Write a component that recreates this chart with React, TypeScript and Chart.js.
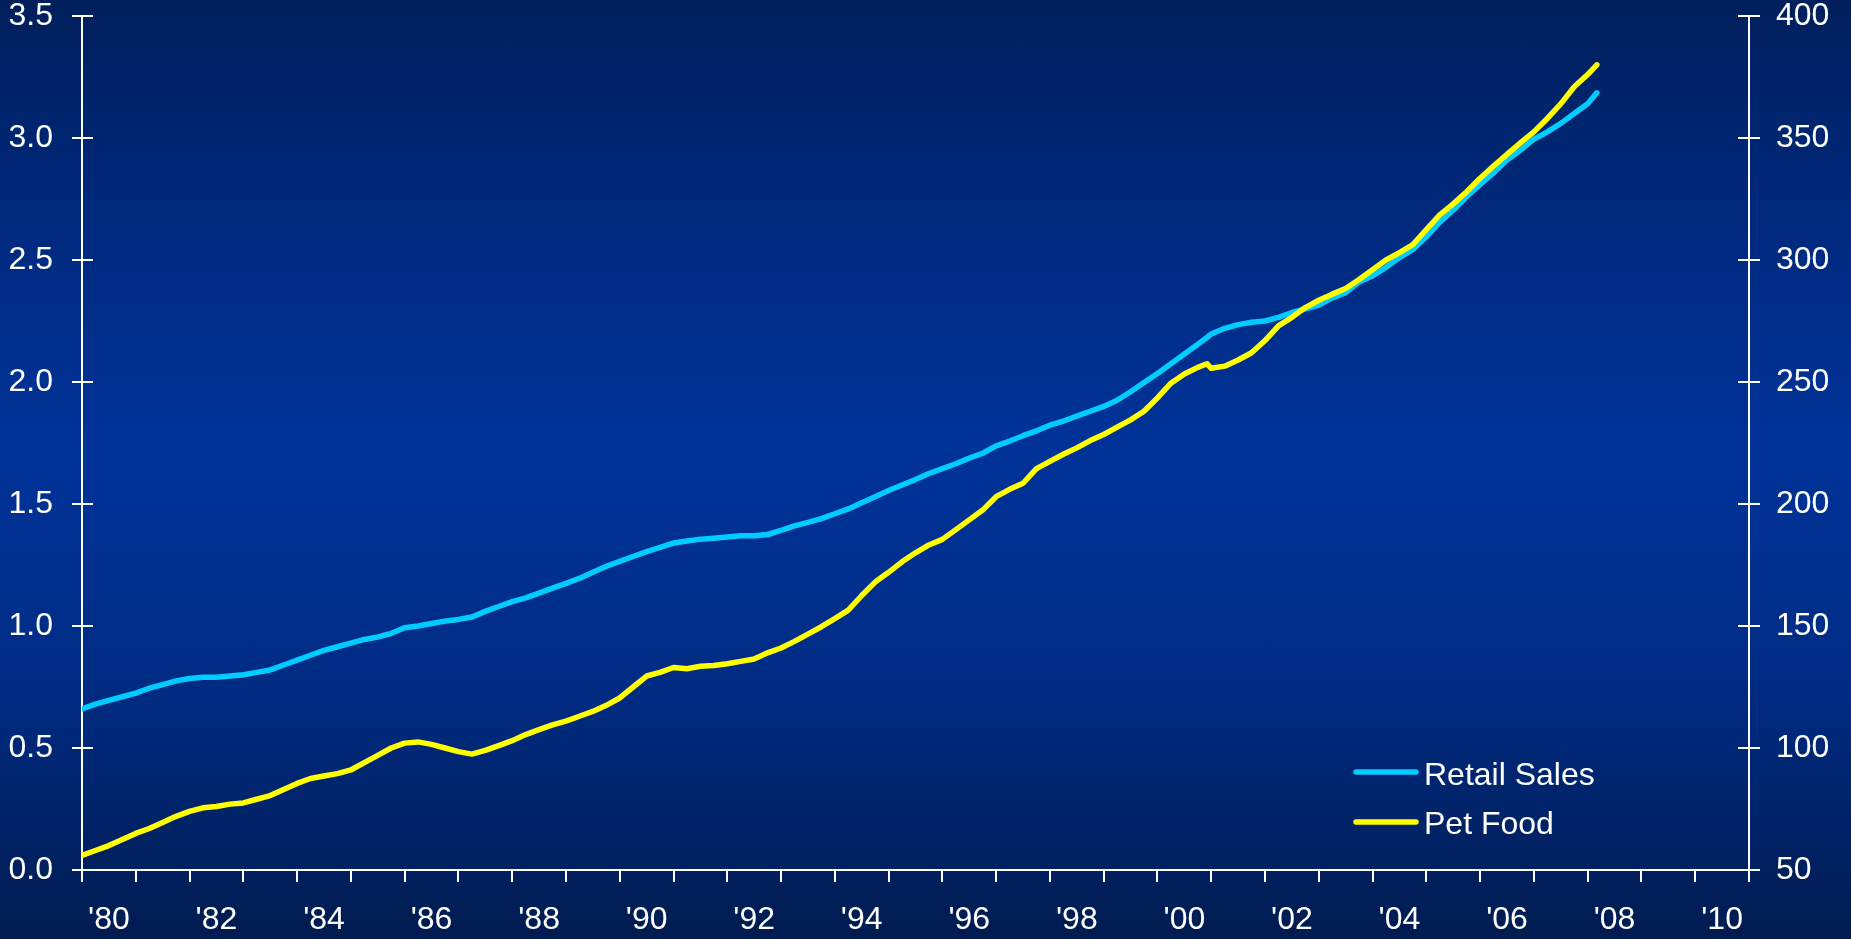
import React, { useEffect, useRef } from "react";
import { Chart, registerables } from "chart.js";

Chart.register(...registerables);

// ---- Data ----
const dates = [
  1980.0, 1980.25, 1980.5, 1980.75, 1981.0, 1981.25, 1981.5, 1981.75,
  1982.0, 1982.25, 1982.5, 1982.75, 1983.0, 1983.25, 1983.5, 1983.75,
  1984.0, 1984.25, 1984.5, 1984.75, 1985.0, 1985.25, 1985.5, 1985.75,
  1986.0, 1986.25, 1986.5, 1986.75, 1987.0, 1987.25, 1987.5, 1987.75,
  1988.0, 1988.25, 1988.5, 1988.75, 1989.0, 1989.25, 1989.5, 1989.75,
  1990.0, 1990.25, 1990.5, 1990.75, 1991.0, 1991.25, 1991.5, 1991.75,
  1992.0, 1992.25, 1992.5, 1992.75, 1993.0, 1993.25, 1993.5, 1993.75,
  1994.0, 1994.25, 1994.5, 1994.75, 1995.0, 1995.25, 1995.5, 1995.75,
  1996.0, 1996.25, 1996.5, 1996.75, 1997.0, 1997.25, 1997.5, 1997.75,
  1998.0, 1998.25, 1998.5, 1998.75, 1999.0, 1999.25, 1999.5, 1999.75,
  2000.0, 2000.25, 2000.5, 2000.75, 2000.92, 2001.0, 2001.25, 2001.5, 2001.75,
  2002.0, 2002.25, 2002.5, 2002.75, 2003.0, 2003.25, 2003.5, 2003.75,
  2004.0, 2004.25, 2004.5, 2004.75, 2005.0, 2005.25, 2005.5, 2005.75,
  2006.0, 2006.25, 2006.5, 2006.75, 2007.0, 2007.25, 2007.5, 2007.75,
  2008.0, 2008.17,
];

// Retail Sales (left axis)
const retailSales = [
  0.66, 0.68, 0.695, 0.71, 0.725, 0.745, 0.76, 0.775,
  0.785, 0.79, 0.79, 0.795, 0.8, 0.81, 0.82, 0.84,
  0.86, 0.88, 0.9, 0.915, 0.93, 0.945, 0.955, 0.97,
  0.993, 1.0, 1.01, 1.02, 1.027, 1.037, 1.06, 1.08,
  1.1, 1.115, 1.135, 1.155, 1.175, 1.195, 1.22, 1.245,
  1.265, 1.285, 1.305, 1.322, 1.34, 1.348, 1.356, 1.36,
  1.365, 1.37, 1.37, 1.375, 1.392, 1.41, 1.425, 1.44,
  1.46, 1.48, 1.505, 1.53, 1.555, 1.578, 1.6, 1.625,
  1.645, 1.665, 1.688, 1.708, 1.738, 1.758, 1.78, 1.8,
  1.823, 1.84, 1.86, 1.88, 1.9, 1.925, 1.96, 1.998,
  2.035, 2.075, 2.115, 2.155, 2.182, 2.197, 2.22, 2.235, 2.245,
  2.25, 2.265, 2.285, 2.3, 2.315, 2.345, 2.366, 2.41,
  2.435, 2.47, 2.51, 2.543, 2.595, 2.655, 2.705, 2.76,
  2.81, 2.857, 2.91, 2.95, 2.995, 3.025, 3.06, 3.1,
  3.14, 3.185,
];

// Pet Food (right axis)
const petFood = [
  56, 58, 60, 62.5, 65, 67, 69.5, 72,
  74, 75.5, 76, 77, 77.5, 79, 80.5, 83,
  85.5, 87.5, 88.5, 89.5, 91, 94, 97, 100,
  102, 102.5, 101.5, 100, 98.5, 97.5, 99, 101,
  103, 105.5, 107.5, 109.5, 111, 113, 115, 117.5,
  120.5, 125, 129.5, 131, 133, 132.5, 133.5, 133.8,
  134.5, 135.5, 136.5, 139, 141, 143.7, 146.7, 149.7,
  153, 156.5, 162.5, 168, 172, 176.3, 180, 183.2,
  185.5, 189.5, 193.5, 197.5, 203, 206, 208.5, 214.5,
  217.5, 220.4, 223, 226, 228.5, 231.5, 234.5, 238,
  243.5, 249.5, 253.3, 256, 257.5, 255.6, 256.5, 259, 262,
  267, 273, 276.5, 280.5, 283.5, 286, 288.3, 292,
  296, 300, 303, 306.3, 312.5, 318.5, 323, 328,
  333.5, 338.5, 343.3, 348, 352.5, 358, 364, 371,
  376, 380,
];

const seriesNames = ["Retail Sales", "Pet Food"];
const seriesColors = ["#00CCFF", "#FFFF00"];
const xLabelYears = [1980, 1982, 1984, 1986, 1988, 1990, 1992, 1994, 1996, 1998, 2000, 2002, 2004, 2006, 2008, 2010];
const leftTicks = [0, 0.5, 1.0, 1.5, 2.0, 2.5, 3.0, 3.5];
const rightTicks = [50, 100, 150, 200, 250, 300, 350, 400];
const X_MIN = 1980;
const X_MAX = 2011;

const FONT = '"Liberation Sans", Arial, Helvetica, sans-serif';

const axesPlugin = {
  id: "customAxes",
  beforeDatasetsDraw(chart: any) {
    const { ctx, chartArea: a, scales } = chart;
    const xs = scales.x;
    const yL = scales.yLeft;
    const yR = scales.yRight;
    ctx.save();
    ctx.strokeStyle = "#ffffff";
    ctx.lineWidth = 2;
    ctx.lineCap = "butt";
    ctx.beginPath();
    ctx.moveTo(a.left, a.top);
    ctx.lineTo(a.left, a.bottom + 12);
    ctx.moveTo(a.right, a.top);
    ctx.lineTo(a.right, a.bottom + 12);
    ctx.moveTo(a.left - 10, a.bottom);
    ctx.lineTo(a.right + 11, a.bottom);
    for (const v of leftTicks) {
      const py = Math.round(yL.getPixelForValue(v));
      ctx.moveTo(a.left - 10, py);
      ctx.lineTo(a.left + 11, py);
    }
    for (const v of rightTicks) {
      const py = Math.round(yR.getPixelForValue(v));
      ctx.moveTo(a.right - 11, py);
      ctx.lineTo(a.right + 11, py);
    }
    for (let yr = X_MIN; yr <= X_MAX; yr++) {
      const px = Math.round(xs.getPixelForValue(yr));
      ctx.moveTo(px, a.bottom);
      ctx.lineTo(px, a.bottom + 12);
    }
    ctx.stroke();
    ctx.restore();
  },
};

const legendPlugin = {
  id: "insideLegend",
  afterDraw(chart: any) {
    const { ctx, chartArea: a } = chart;
    const x0 = a.right - 393;
    const x1 = a.right - 333;
    const tx = a.right - 325;
    const rows = [
      { lineY: a.bottom - 98, base: a.bottom - 85 },
      { lineY: a.bottom - 48, base: a.bottom - 36 },
    ];
    ctx.save();
    seriesNames.forEach((name, i) => {
      const r = rows[i];
      ctx.strokeStyle = seriesColors[i];
      ctx.lineWidth = 5.5;
      ctx.lineCap = "round";
      ctx.beginPath();
      ctx.moveTo(x0, r.lineY);
      ctx.lineTo(x1, r.lineY);
      ctx.stroke();
      ctx.fillStyle = "#ffffff";
      ctx.font = `32px ${FONT}`;
      ctx.textAlign = "left";
      ctx.textBaseline = "alphabetic";
      ctx.fillText(name, tx, r.base);
    });
    ctx.restore();
  },
};

export default function App() {
  const canvasRef = useRef<HTMLCanvasElement | null>(null);

  useEffect(() => {
    const canvas = canvasRef.current;
    if (!canvas) return;
    const tickFont = { family: FONT, size: 32 };
    const chart = new Chart(canvas, {
      type: "line",
      data: {
        datasets: [
          {
            label: seriesNames[0],
            data: dates.map((d, i) => ({ x: d, y: retailSales[i] })),
            borderColor: seriesColors[0],
            backgroundColor: seriesColors[0],
            borderWidth: 5.5,
            pointRadius: 0,
            tension: 0,
            borderJoinStyle: "round",
            borderCapStyle: "round",
            yAxisID: "yLeft",
            order: 2,
          },
          {
            label: seriesNames[1],
            data: dates.map((d, i) => ({ x: d, y: petFood[i] })),
            borderColor: seriesColors[1],
            backgroundColor: seriesColors[1],
            borderWidth: 5.5,
            pointRadius: 0,
            tension: 0,
            borderJoinStyle: "round",
            borderCapStyle: "round",
            yAxisID: "yRight",
            order: 1,
          },
        ],
      },
      options: {
        responsive: false,
        animation: false,
        events: [],
        layout: { padding: { top: 16, left: 0, right: 0, bottom: 0 } },
        plugins: {
          legend: { display: false },
          tooltip: { enabled: false },
          title: { display: false },
        },
        scales: {
          x: {
            type: "linear",
            position: "bottom",
            min: X_MIN,
            max: X_MAX,
            grid: { display: false, drawTicks: false },
            border: { display: false },
            afterBuildTicks: (axis: any) => {
              axis.ticks = xLabelYears.map((y) => ({ value: y + 0.5 }));
            },
            afterFit: (axis: any) => {
              axis.height = 69;
              axis.paddingLeft = 0;
              axis.paddingRight = 0;
            },
            ticks: {
              color: "#ffffff",
              font: tickFont,
              padding: 31,
              autoSkip: false,
              maxRotation: 0,
              minRotation: 0,
              callback: (v: any) => "'" + String(Math.floor(Number(v)) % 100).padStart(2, "0"),
            },
          },
          yLeft: {
            type: "linear",
            position: "left",
            min: 0,
            max: 3.5,
            grid: { display: false, drawTicks: false },
            border: { display: false },
            afterBuildTicks: (axis: any) => {
              axis.ticks = leftTicks.map((v) => ({ value: v }));
            },
            afterFit: (axis: any) => {
              axis.width = 82;
              axis.paddingTop = 0;
              axis.paddingBottom = 0;
            },
            ticks: {
              color: "#ffffff",
              font: tickFont,
              padding: 29,
              callback: (v: any) => Number(v).toFixed(1),
            },
          },
          yRight: {
            type: "linear",
            position: "right",
            min: 50,
            max: 400,
            grid: { display: false, drawTicks: false },
            border: { display: false },
            afterBuildTicks: (axis: any) => {
              axis.ticks = rightTicks.map((v) => ({ value: v }));
            },
            afterFit: (axis: any) => {
              axis.width = 102;
              axis.paddingTop = 0;
              axis.paddingBottom = 0;
            },
            ticks: {
              color: "#ffffff",
              font: tickFont,
              padding: 27,
              callback: (v: any) => String(v),
            },
          },
        },
      },
      plugins: [axesPlugin, legendPlugin],
    } as any);
    return () => chart.destroy();
  }, []);

  return (
    <div
      style={{
        position: "fixed",
        left: 0,
        top: 0,
        width: 1851,
        height: 939,
        overflow: "hidden",
        background:
          "linear-gradient(to bottom, #001f5c 0%, #002a80 25%, #003399 48%, #002c85 72%, #001c50 100%)",
      }}
    >
      <canvas ref={canvasRef} width={1851} height={939} style={{ display: "block" }} />
    </div>
  );
}
